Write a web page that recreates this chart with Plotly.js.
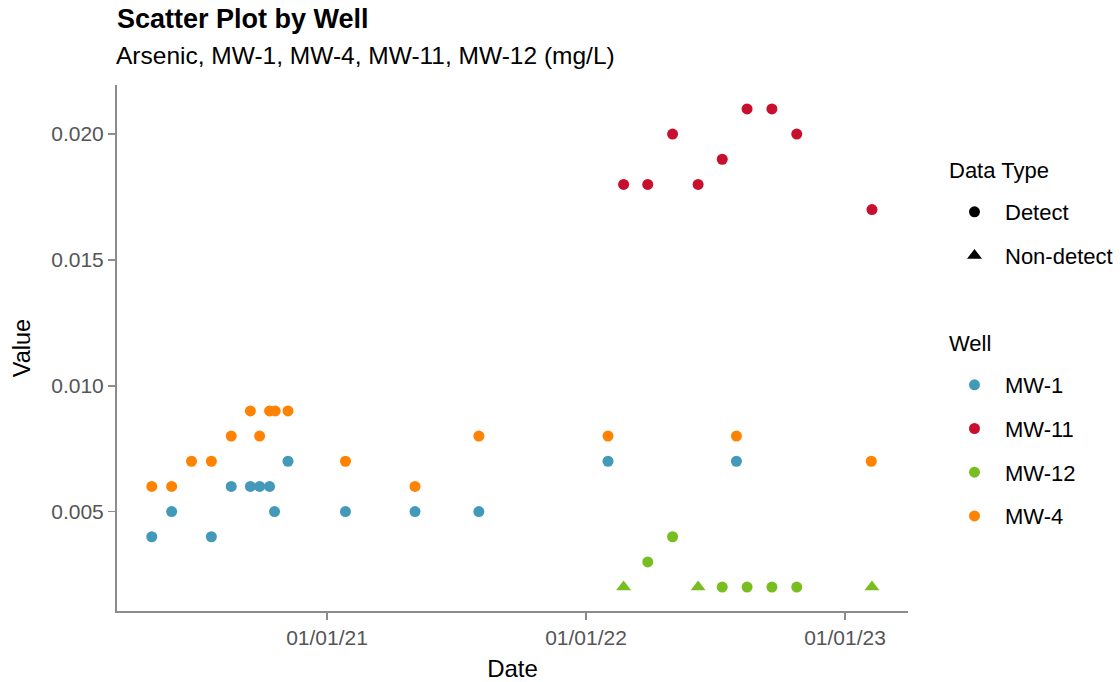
<!DOCTYPE html>
<html>
<head>
<meta charset="utf-8">
<script src="https://cdn.plot.ly/plotly-3.0.1.min.js"></script>
<style>html,body{margin:0;padding:0;background:#fff;}#chart{width:1120px;height:682px;}</style>
</head>
<body>
<div id="chart"></div>
<script>
// ---- data ----
const wells = ["MW-1", "MW-11", "MW-12", "MW-4"];
const wellColors = ["#4399B9", "#C8102E", "#78BE20", "#FF8200"];

const mw1Dates = ["2020-04-29","2020-05-27","2020-07-22","2020-08-19","2020-09-15","2020-09-28","2020-10-12","2020-10-19","2020-11-07","2021-01-27","2021-05-05","2021-08-03","2022-02-01","2022-08-01"];
const mw1Values = [0.004,0.005,0.004,0.006,0.006,0.006,0.006,0.005,0.007,0.005,0.005,0.005,0.007,0.007];

const mw4Dates = ["2020-04-29","2020-05-27","2020-06-24","2020-07-22","2020-08-19","2020-09-15","2020-09-28","2020-10-12","2020-10-20","2020-11-07","2021-01-27","2021-05-05","2021-08-03","2022-02-01","2022-08-01","2023-02-07"];
const mw4Values = [0.006,0.006,0.007,0.007,0.008,0.009,0.008,0.009,0.009,0.009,0.007,0.006,0.008,0.008,0.008,0.007];

const mw11Dates = ["2022-02-23","2022-03-29","2022-05-03","2022-06-08","2022-07-12","2022-08-16","2022-09-20","2022-10-25","2023-02-08"];
const mw11Values = [0.018,0.018,0.020,0.018,0.019,0.021,0.021,0.020,0.017];

const mw12DetectDates = ["2022-03-29","2022-05-03","2022-07-12","2022-08-16","2022-09-20","2022-10-25"];
const mw12DetectValues = [0.003,0.004,0.002,0.002,0.002,0.002];

const mw12NonDetectDates = ["2022-02-23","2022-06-08","2023-02-08"];
const mw12NonDetectValues = [0.002,0.002,0.002];

const dataTypes = ["Detect", "Non-detect"];
const dataTypeSymbols = ["circle", "triangle-up"];

const xTickVals = ["2021-01-01", "2022-01-01", "2023-01-01"];
const yTickVals = [0.005, 0.010, 0.015, 0.020];

const chartTitle = "Scatter Plot by Well";
const chartSubtitle = "Arsenic, MW-1, MW-4, MW-11, MW-12 (mg/L)";
const legendTitles = ["Data Type", "Well"];

// ---- traces ----
const FONT = "Liberation Sans, Arial, sans-serif";
const detectSeries = {
  "MW-1": [mw1Dates, mw1Values],
  "MW-11": [mw11Dates, mw11Values],
  "MW-12": [mw12DetectDates, mw12DetectValues],
  "MW-4": [mw4Dates, mw4Values]
};

const traces = [];
// data-type legend entries (black keys)
dataTypes.forEach((t, i) => {
  traces.push({
    type: "scatter", mode: "markers", x: [null], y: [null],
    name: t, legend: "legend", legendgroup: "dt" + i,
    marker: {symbol: dataTypeSymbols[i], color: "#000000", size: i === 0 ? 11 : 13},
    hoverinfo: "skip"
  });
});
// well series (detects, circles)
wells.forEach((w, i) => {
  const s = detectSeries[w];
  traces.push({
    type: "scatter", mode: "markers", x: s[0], y: s[1],
    name: w, legend: "legend2", legendgroup: "w" + i,
    marker: {symbol: "circle", color: wellColors[i], size: 11}
  });
});
// non-detects (MW-12)
traces.push({
  type: "scatter", mode: "markers", x: mw12NonDetectDates, y: mw12NonDetectValues,
  name: "MW-12 (non-detect)", showlegend: false,
  marker: {symbol: "triangle-up", color: wellColors[2], size: 13}
});

const axisCommon = {
  showline: true, linecolor: "#8c8c8c", linewidth: 2,
  ticks: "outside", ticklen: 7, tickwidth: 1.5, tickcolor: "#8c8c8c",
  showgrid: false, zeroline: false,
  tickfont: {family: FONT, size: 21, color: "#555555"}
};

const legendCommon = {
  xref: "container", yref: "container",
  x: 944 / 1120, xanchor: "left", yanchor: "top",
  font: {family: FONT, size: 22, color: "#000000"},
  traceorder: "grouped", tracegroupgap: 12.1, itemwidth: 51,
  bgcolor: "rgba(0,0,0,0)"
};

const layout = {
  width: 1120, height: 682,
  paper_bgcolor: "#ffffff", plot_bgcolor: "#ffffff",
  margin: {l: 117, r: 212, t: 85, b: 71},
  font: {family: FONT, color: "#000000"},
  title: {
    text: "<b>" + chartTitle + "</b>",
    font: {family: FONT, size: 27, color: "#000000"},
    xref: "paper", x: 0, xanchor: "left",
    yref: "container", y: 0.986, yanchor: "top"
  },
  annotations: [
    {text: chartSubtitle, xref: "paper", yref: "paper", x: -3 / 791, y: 1 + 30 / 526,
     xanchor: "left", yanchor: "middle", showarrow: false,
     font: {family: FONT, size: 24.5, color: "#000000"}},
    {text: legendTitles[0], xref: "paper", yref: "paper", x: (947 - 117) / 791, y: 1 - (170 - 85) / 526,
     xanchor: "left", yanchor: "middle", showarrow: false,
     font: {family: FONT, size: 22, color: "#000000"}},
    {text: legendTitles[1], xref: "paper", yref: "paper", x: (947 - 117) / 791, y: 1 - (343 - 85) / 526,
     xanchor: "left", yanchor: "middle", showarrow: false,
     font: {family: FONT, size: 22, color: "#000000"}}
  ],
  xaxis: Object.assign({}, axisCommon, {
    type: "date",
    range: ["2020-03-11", "2023-03-30 19:00"],
    tickvals: xTickVals, tickformat: "%m/%d/%y",
    title: {text: "Date", font: {family: FONT, size: 24, color: "#000000"}, standoff: 12}
  }),
  yaxis: Object.assign({}, axisCommon, {
    range: [0.00105, 0.02195],
    tickvals: yTickVals, tickformat: ".3f",
    title: {text: "Value", font: {family: FONT, size: 23.5, color: "#000000"}, standoff: 14}
  }),
  legend: Object.assign({}, legendCommon, {y: 1 - 191 / 682}),
  legend2: Object.assign({}, legendCommon, {y: 1 - 364 / 682}),
  showlegend: true
};

Plotly.newPlot("chart", traces, layout, {displayModeBar: false, staticPlot: true});
</script>
</body>
</html>
